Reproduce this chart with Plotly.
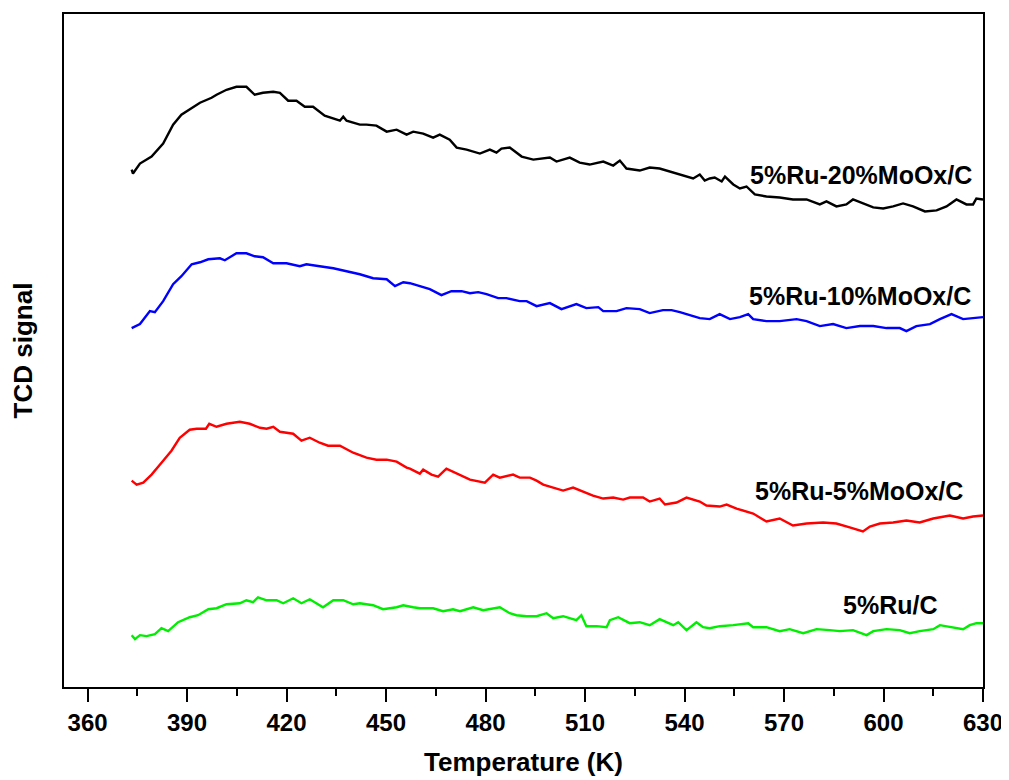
import plotly.graph_objects as go

# ---- data (Temperature in K, TCD signal in arbitrary units, curves offset) ----
t_20 = [373.3, 373.7, 375.8, 379.3, 382.8, 385.8, 388.3, 390.8, 393.9, 397.4, 398.9, 401.9,
        404.9, 407.9, 410.4, 412.9, 416.0, 418.0, 420.5, 423.0, 425.5, 428.0, 431.5, 436.1,
        437.1, 438.1, 442.1, 444.1, 447.1, 450.2, 453.2, 456.2, 458.2, 461.2, 464.2, 466.2,
        469.2, 471.3, 474.3, 478.3, 481.3, 483.3, 484.8, 487.3, 490.9, 494.4, 496.4, 499.4,
        501.4, 505.4, 508.4, 511.4, 515.5, 518.5, 520.5, 522.5, 526.5, 529.5, 532.5, 536.6,
        540.6, 542.6, 544.6, 546.1, 547.6, 549.1, 551.2, 552.2, 554.7, 556.7, 558.7, 561.2,
        564.7, 568.7, 572.7, 576.8, 580.8, 582.8, 585.8, 588.8, 590.8, 593.8, 596.9, 599.9,
        602.9, 605.9, 608.9, 612.5, 616.0, 619.0, 622.0, 625.0, 627.0, 628.0, 630.0]
s_20 = [5.19, 5.15, 5.25, 5.32, 5.45, 5.64, 5.74, 5.79, 5.86, 5.91, 5.94, 5.99,
        6.02, 6.02, 5.94, 5.96, 5.97, 5.96, 5.88, 5.88, 5.82, 5.82, 5.73, 5.68,
        5.72, 5.68, 5.64, 5.64, 5.63, 5.57, 5.59, 5.54, 5.57, 5.55, 5.51, 5.54,
        5.49, 5.41, 5.39, 5.35, 5.39, 5.36, 5.40, 5.41, 5.32, 5.29, 5.30, 5.31,
        5.27, 5.31, 5.26, 5.24, 5.27, 5.23, 5.28, 5.20, 5.18, 5.21, 5.20, 5.16,
        5.12, 5.10, 5.14, 5.08, 5.10, 5.11, 5.07, 5.12, 5.04, 5.00, 5.02, 4.94,
        4.92, 4.91, 4.89, 4.89, 4.84, 4.87, 4.82, 4.84, 4.89, 4.85, 4.81, 4.80,
        4.82, 4.85, 4.82, 4.77, 4.78, 4.82, 4.89, 4.84, 4.84, 4.90, 4.89]

t_10 = [373.3, 375.8, 378.8, 380.3, 382.8, 385.8, 388.3, 391.4, 393.9, 396.4, 399.9, 401.4,
        404.9, 407.9, 410.4, 412.9, 416.0, 420.0, 424.0, 426.0, 430.0, 434.1, 438.1, 442.1,
        446.1, 450.2, 452.7, 455.2, 457.2, 460.2, 463.2, 466.7, 469.7, 472.8, 475.3, 477.8,
        480.3, 483.8, 486.3, 490.3, 492.4, 495.4, 499.4, 502.9, 507.4, 510.4, 514.0, 515.5,
        519.5, 522.5, 526.5, 529.5, 533.5, 536.1, 538.6, 542.6, 544.6, 547.6, 550.6, 553.7,
        556.7, 559.2, 560.7, 564.7, 568.7, 573.8, 576.8, 580.8, 584.8, 588.8, 592.9, 596.9,
        600.9, 604.9, 606.9, 609.9, 614.0, 617.0, 620.5, 624.0, 627.0, 630.0]
s_10 = [3.60, 3.64, 3.77, 3.76, 3.87, 4.04, 4.12, 4.24, 4.26, 4.29, 4.30, 4.28,
        4.35, 4.35, 4.32, 4.31, 4.25, 4.25, 4.22, 4.24, 4.22, 4.20, 4.17, 4.14,
        4.10, 4.09, 4.02, 4.06, 4.05, 4.02, 3.99, 3.93, 3.97, 3.97, 3.95, 3.96,
        3.94, 3.90, 3.90, 3.87, 3.87, 3.82, 3.85, 3.79, 3.84, 3.80, 3.81, 3.77,
        3.77, 3.80, 3.79, 3.75, 3.78, 3.78, 3.76, 3.72, 3.70, 3.69, 3.74, 3.69,
        3.71, 3.74, 3.69, 3.67, 3.67, 3.69, 3.67, 3.62, 3.64, 3.60, 3.62, 3.62,
        3.60, 3.60, 3.57, 3.62, 3.64, 3.69, 3.74, 3.69, 3.70, 3.71]

t_5 = [373.3, 374.8, 376.8, 379.3, 382.3, 385.3, 387.8, 390.8, 392.9, 395.7, 396.7, 398.9,
       401.9, 405.9, 408.9, 412.0, 414.0, 416.0, 418.0, 422.0, 424.5, 427.0, 430.0, 432.5,
       436.1, 440.1, 444.1, 447.1, 450.2, 453.2, 456.2, 457.2, 460.2, 461.2, 463.7, 465.7,
       468.2, 471.3, 475.3, 479.8, 482.3, 484.3, 488.3, 490.3, 493.4, 495.4, 497.4, 500.4,
       503.4, 506.4, 509.4, 512.4, 515.5, 518.5, 521.5, 523.5, 527.5, 529.5, 532.5, 534.1,
       537.6, 540.6, 544.6, 546.6, 550.6, 552.7, 555.7, 560.7, 564.7, 568.7, 572.7, 576.8,
       581.8, 585.8, 589.8, 593.8, 595.9, 598.9, 602.9, 606.9, 610.9, 615.0, 620.0, 624.0,
       627.0, 630.0]
s_5 = [2.07, 2.03, 2.05, 2.13, 2.25, 2.37, 2.50, 2.58, 2.59, 2.59, 2.64, 2.61,
       2.64, 2.66, 2.64, 2.60, 2.59, 2.61, 2.56, 2.54, 2.47, 2.50, 2.45, 2.42,
       2.42, 2.35, 2.30, 2.28, 2.28, 2.26, 2.20, 2.19, 2.14, 2.18, 2.13, 2.11,
       2.19, 2.14, 2.08, 2.05, 2.13, 2.10, 2.13, 2.10, 2.10, 2.07, 2.03, 2.00,
       1.97, 2.00, 1.96, 1.92, 1.89, 1.90, 1.88, 1.90, 1.90, 1.86, 1.89, 1.83,
       1.85, 1.90, 1.86, 1.82, 1.81, 1.83, 1.79, 1.74, 1.66, 1.69, 1.62, 1.64,
       1.65, 1.64, 1.60, 1.56, 1.61, 1.64, 1.65, 1.67, 1.65, 1.69, 1.72, 1.69,
       1.71, 1.72]

t_0 = [373.3, 374.3, 375.8, 377.8, 380.3, 382.3, 384.3, 387.3, 390.8, 393.3, 396.4, 398.9,
       401.9, 405.9, 407.9, 409.9, 411.4, 414.0, 417.0, 419.0, 422.0, 424.5, 427.0, 431.0,
       434.1, 437.1, 440.1, 442.1, 446.1, 449.1, 453.2, 455.2, 458.2, 460.2, 464.2, 467.2,
       470.2, 472.3, 476.3, 479.3, 484.3, 487.3, 489.3, 492.4, 495.4, 498.4, 500.4, 503.4,
       507.4, 508.9, 510.4, 513.5, 516.5, 517.5, 520.0, 523.5, 526.5, 529.5, 532.5, 536.6,
       538.1, 540.6, 543.6, 545.6, 547.6, 550.6, 554.7, 559.2, 560.7, 564.7, 568.7, 571.7,
       575.8, 579.8, 583.8, 586.8, 590.8, 594.9, 596.9, 600.9, 604.9, 607.9, 610.9, 615.0,
       617.0, 620.0, 624.0, 626.0, 628.0, 630.0]
s_0 = [0.52, 0.48, 0.52, 0.51, 0.53, 0.59, 0.56, 0.65, 0.70, 0.72, 0.78, 0.79,
       0.83, 0.84, 0.87, 0.85, 0.90, 0.87, 0.87, 0.84, 0.89, 0.84, 0.88, 0.80,
       0.87, 0.87, 0.83, 0.84, 0.82, 0.78, 0.80, 0.82, 0.80, 0.79, 0.79, 0.76,
       0.78, 0.76, 0.80, 0.77, 0.80, 0.74, 0.72, 0.71, 0.71, 0.74, 0.69, 0.71,
       0.67, 0.72, 0.61, 0.61, 0.60, 0.67, 0.70, 0.64, 0.65, 0.62, 0.68, 0.62,
       0.65, 0.57, 0.65, 0.60, 0.59, 0.61, 0.62, 0.64, 0.60, 0.60, 0.56, 0.58,
       0.54, 0.58, 0.57, 0.56, 0.57, 0.52, 0.56, 0.58, 0.57, 0.54, 0.56, 0.58,
       0.62, 0.60, 0.58, 0.62, 0.64, 0.64]

series_names = ["5%Ru-20%MoOx/C", "5%Ru-10%MoOx/C", "5%Ru-5%MoOx/C", "5%Ru/C"]
series_colors = ["#000000", "#0000ff", "#ff0000", "#00ee00"]
label_x = [593.2, 593.0, 592.6, 602.0]
label_y = [5.14, 3.92, 1.97, 0.82]

x_ticks = [360, 390, 420, 450, 480, 510, 540, 570, 600, 630]

FONT = "Liberation Sans, Arial, sans-serif"

fig = go.Figure()
for t, s, name, col in zip([t_20, t_10, t_5, t_0], [s_20, s_10, s_5, s_0],
                           series_names, series_colors):
    fig.add_trace(go.Scatter(x=t, y=s, mode="lines", name=name,
                             line=dict(color=col, width=2.4), showlegend=False))

for name, lx, ly in zip(series_names, label_x, label_y):
    fig.add_annotation(x=lx, y=ly, text=name, showarrow=False,
                       font=dict(family=FONT, size=25, color="#000000", weight="bold"),
                       xanchor="center", yanchor="middle")

fig.update_layout(
    width=1001, height=772,
    margin=dict(l=56, r=26, t=4, b=93),
    paper_bgcolor="white", plot_bgcolor="white",
    font=dict(family=FONT, size=24, color="#000000", weight="bold"),
    xaxis=dict(
        range=[352.9, 630], tickmode="array", tickvals=x_ticks,
        ticks="outside", ticklen=13, tickwidth=2, tickcolor="#000000",
        showline=True, linecolor="#000000", linewidth=2, mirror=True,
        showgrid=False, zeroline=False,
        tickfont=dict(family=FONT, size=24, color="#000000", weight="bold"),
        minor=dict(dtick=15, tick0=360, ticks="outside", ticklen=7, tickwidth=2,
                   tickcolor="#000000", showgrid=False),
        title=dict(text="Temperature (K)", standoff=18,
                   font=dict(family=FONT, size=26, color="#000000", weight="bold")),
    ),
    yaxis=dict(
        range=[0, 6.75], showticklabels=False, ticks="",
        showline=True, linecolor="#000000", linewidth=2, mirror=True,
        showgrid=False, zeroline=False,
        title=dict(text="TCD signal", standoff=22,
                   font=dict(family=FONT, size=26, color="#000000", weight="bold")),
    ),
)

fig.write_html("out.html")
